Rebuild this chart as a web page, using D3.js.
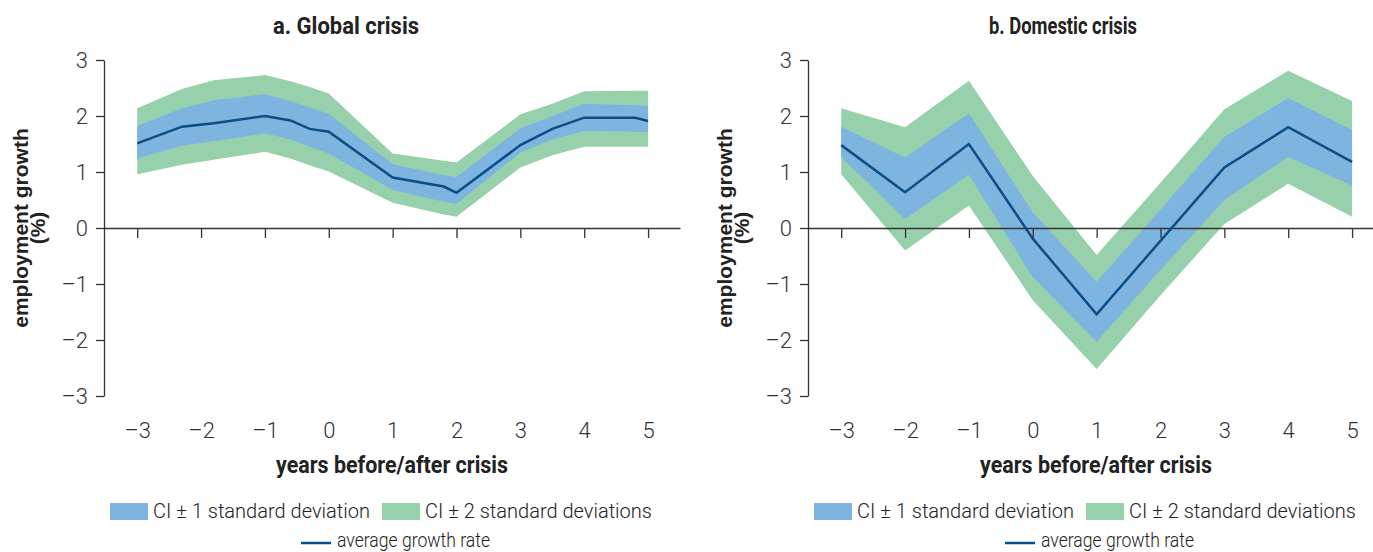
<!DOCTYPE html>
<html>
<head>
<meta charset="utf-8">
<script src="https://cdn.jsdelivr.net/npm/d3@7"></script>
<style>
  body { margin: 0; background: #fff; }
  text { fill: #222; }
  .tick text { font-family: Roboto, "Liberation Sans", sans-serif; font-size: 22px; font-weight: 300; fill: #333; }
  .axis path, .axis line { stroke: #333; stroke-width: 1.3; }
</style>
</head>
<body>
<div id="chart-area"></div>
<script>

var width = 1373,
	height = 552;

var titles = ["a. Global crisis", "b. Domestic crisis"];

// Global crisis (points read at irregular positions)
var globalYears = [-3, -2.3, -1.8, -1, -0.6, -0.3, 0, 1, 1.8, 2, 3, 3.5, 4, 4.8, 5];
var globalMean  = [1.51, 1.81, 1.87, 2.0, 1.92, 1.77, 1.72, 0.90, 0.74, 0.63, 1.48, 1.77, 1.97, 1.97, 1.91];
var globalHi1   = [1.82, 2.14, 2.28, 2.39, 2.27, 2.15, 2.04, 1.14, 0.94, 0.91, 1.78, 2.00, 2.22, 2.19, 2.18];
var globalLo1   = [1.24, 1.47, 1.55, 1.69, 1.58, 1.45, 1.33, 0.68, 0.47, 0.43, 1.35, 1.58, 1.73, 1.72, 1.71];
var globalHi2   = [2.14, 2.48, 2.64, 2.73, 2.62, 2.52, 2.40, 1.33, 1.20, 1.17, 2.03, 2.22, 2.44, 2.45, 2.45];
var globalLo2   = [0.96, 1.13, 1.22, 1.36, 1.24, 1.12, 1.01, 0.45, 0.24, 0.20, 1.08, 1.30, 1.45, 1.45, 1.45];

// Domestic crisis
var domesticYears = [-3, -2, -1, 0, 1, 2, 3, 4, 5];
var domesticMean  = [1.48, 0.64, 1.50, -0.19, -1.54, -0.23, 1.08, 1.80, 1.18];
var domesticHi1   = [1.81, 1.26, 2.05, 0.28, -0.96, 0.33, 1.63, 2.32, 1.75];
var domesticLo1   = [1.27, 0.16, 0.95, -0.88, -2.03, -0.75, 0.50, 1.27, 0.76];
var domesticHi2   = [2.14, 1.80, 2.63, 0.93, -0.48, 0.81, 2.12, 2.81, 2.27];
var domesticLo2   = [0.96, -0.40, 0.40, -1.29, -2.52, -1.20, 0.07, 0.79, 0.20];

var xTicks = [-3, -2, -1, 0, 1, 2, 3, 4, 5];
var yTicks = [-3, -2, -1, 0, 1, 2, 3];

var legendLabels = ["CI \u00b1 1 standard deviation", "CI \u00b1 2 standard deviations", "average growth rate"];

var colors = { sd1: "#7eb5e0", sd2: "#97d1ab", line: "#0b4e87" };

var panels = [
    { title: titles[0], x0: 104, titleX: 346, titleW: 146, years: globalYears, mean: globalMean, hi1: globalHi1, lo1: globalLo1, hi2: globalHi2, lo2: globalLo2 },
    { title: titles[1], x0: 808, titleX: 1063, titleW: 148, years: domesticYears, mean: domesticMean, hi1: domesticHi1, lo1: domesticLo1, hi2: domesticHi2, lo2: domesticLo2 }
];

var svg = d3.select("#chart-area")
    .append("svg")
    .attr("width", width)
    .attr("height", height);

var yScale = d3.scaleLinear()
    .domain([-3, 3])
    .range([396, 60]);

var font = 'Roboto, "Liberation Sans", sans-serif';

// squeeze text to the condensed widths of the original typeface
function squeeze(sel, w) {
    sel.attr("textLength", w).attr("lengthAdjust", "spacingAndGlyphs");
}

panels.forEach(function(p) {

    var xScale = d3.scaleLinear()
        .domain([-3.52, 5.5])
        .range([p.x0, p.x0 + 576]);

    var g = svg.append("g");

    var rows = p.years.map(function(y, i) {
        return { x: y, mean: p.mean[i], hi1: p.hi1[i], lo1: p.lo1[i], hi2: p.hi2[i], lo2: p.lo2[i] };
    });

    var area2 = d3.area()
        .x(d => xScale(d.x))
        .y0(d => yScale(d.lo2))
        .y1(d => yScale(d.hi2));

    var area1 = d3.area()
        .x(d => xScale(d.x))
        .y0(d => yScale(d.lo1))
        .y1(d => yScale(d.hi1));

    var line = d3.line()
        .x(d => xScale(d.x))
        .y(d => yScale(d.mean));

    g.append("path").datum(rows).attr("d", area2).attr("fill", colors.sd2);
    g.append("path").datum(rows).attr("d", area1).attr("fill", colors.sd1);

    // Axes
    var yAxis = d3.axisLeft(yScale)
        .tickValues(yTicks)
        .tickSize(8)
        .tickSizeOuter(0)
        .tickPadding(8)
        .tickFormat(d => d < 0 ? "\u2013" + Math.abs(d) : d);

    g.append("g")
        .attr("class", "axis")
        .attr("transform", "translate(" + p.x0 + ",0)")
        .call(yAxis);

    var xAxis = d3.axisBottom(xScale)
        .tickValues(xTicks)
        .tickSize(10)
        .tickSizeOuter(0)
        .tickPadding(184)
        .tickFormat(d => d < 0 ? "\u2013" + Math.abs(d) : d);

    g.append("g")
        .attr("class", "axis")
        .attr("transform", "translate(0," + yScale(0) + ")")
        .call(xAxis);

    g.append("path").datum(rows)
        .attr("d", line)
        .attr("fill", "none")
        .attr("stroke", colors.line)
        .attr("stroke-width", 2.5);

    // Titles and labels
    g.append("text")
        .attr("x", p.titleX)
        .attr("y", 34)
        .attr("text-anchor", "middle")
        .style("font-family", font)
        .style("font-weight", "bold")
        .style("font-size", "23px")
        .call(squeeze, p.titleW)
        .text(p.title);

    g.append("text")
        .attr("text-anchor", "middle")
        .attr("transform", "translate(" + (p.x0 - 76) + "," + 228 + ")rotate(-90)")
        .style("font-family", '"Liberation Sans", Arial, sans-serif')
        .style("font-weight", "bold")
        .style("font-size", "21px")
        .text("employment growth");

    g.append("text")
        .attr("text-anchor", "middle")
        .attr("transform", "translate(" + (p.x0 - 59) + "," + 228 + ")rotate(-90)")
        .style("font-family", '"Liberation Sans", Arial, sans-serif')
        .style("font-weight", "bold")
        .style("font-size", "21px")
        .text("(%)");

    g.append("text")
        .attr("x", p.x0 + 288)
        .attr("y", 473)
        .attr("text-anchor", "middle")
        .style("font-family", font)
        .style("font-weight", "bold")
        .style("font-size", "23px")
        .call(squeeze, 232)
        .text("years before/after crisis");

    // Legend
    var lg = g.append("g").style("font-family", font).style("font-size", "21px").style("font-weight", 300);

    lg.append("rect").attr("x", p.x0 + 6).attr("y", 503).attr("width", 38).attr("height", 17).attr("fill", colors.sd1);
    lg.append("text").attr("x", p.x0 + 49).attr("y", 518).call(squeeze, 217).text(legendLabels[0]);
    lg.append("rect").attr("x", p.x0 + 278).attr("y", 503).attr("width", 38).attr("height", 17).attr("fill", colors.sd2);
    lg.append("text").attr("x", p.x0 + 321).attr("y", 518).call(squeeze, 227).text(legendLabels[1]);
    lg.append("line").attr("x1", p.x0 + 197).attr("x2", p.x0 + 227).attr("y1", 543).attr("y2", 543)
        .attr("stroke", colors.line).attr("stroke-width", 2.5);
    lg.append("text").attr("x", p.x0 + 233).attr("y", 547).call(squeeze, 153).text(legendLabels[2]);
});

</script>
</body>
</html>
